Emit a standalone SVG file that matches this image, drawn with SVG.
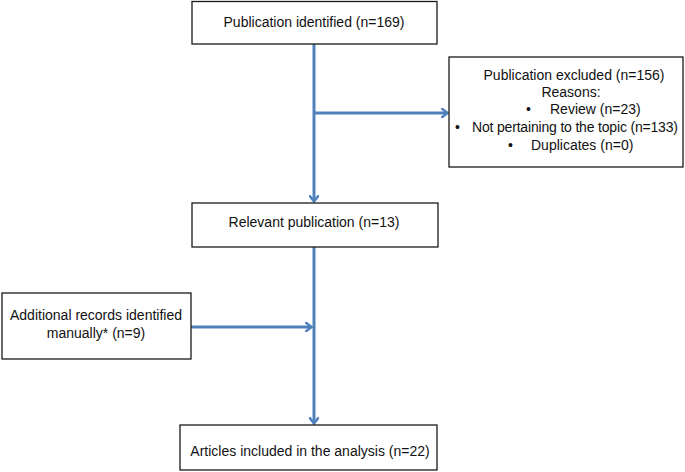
<svg xmlns="http://www.w3.org/2000/svg" width="685" height="472" viewBox="0 0 685 472">
<style>
.box{fill:#fff;stroke:#1a1a1a;stroke-width:1.3}
.t{font-family:"Liberation Sans",Arial,sans-serif;font-size:14px;fill:#111}
.c{text-anchor:middle}
.ln{stroke:#4F81BD;stroke-width:3;fill:none}
</style>
<defs>
<marker id="ah" markerWidth="8" markerHeight="10" refX="6" refY="5" orient="auto" markerUnits="userSpaceOnUse">
<path d="M0,0 L6.5,5 L0,10" fill="none" stroke="#4F81BD" stroke-width="2.5"/>
</marker>
</defs>
<rect width="685" height="472" fill="#fff"/>
<g id="connectors">
<line class="ln" x1="314" y1="44" x2="314" y2="201" marker-end="url(#ah)"/>
<line class="ln" x1="314" y1="113" x2="447" y2="113" marker-end="url(#ah)"/>
<line class="ln" x1="314" y1="247" x2="314" y2="423" marker-end="url(#ah)"/>
<line class="ln" x1="191" y1="327" x2="311" y2="327" marker-end="url(#ah)"/>
</g>
<g id="identified">
<rect class="box" x="192" y="1.5" width="245" height="42.5"/>
<text class="t c" x="314" y="27">Publication identified (n=169)</text>
</g>
<g id="excluded">
<rect class="box" x="449" y="57" width="234" height="110"/>
<text class="t c" x="574" y="80">Publication excluded (n=156)</text>
<text class="t c" x="571" y="97">Reasons:</text>
<text class="t" x="526" y="114">•</text>
<text class="t" x="550" y="114">Review (n=23)</text>
<text class="t" x="455" y="132">•</text>
<text class="t" x="472" y="132" textLength="206" lengthAdjust="spacing">Not pertaining to the topic (n=133)</text>
<text class="t" x="508" y="150">•</text>
<text class="t" x="531" y="150">Duplicates (n=0)</text>
</g>
<g id="relevant">
<rect class="box" x="192" y="203" width="246" height="44"/>
<text class="t c" x="314" y="227">Relevant publication (n=13)</text>
</g>
<g id="additional">
<rect class="box" x="2" y="293" width="189" height="66"/>
<text class="t c" x="96" y="320">Additional records identified</text>
<text class="t c" x="96" y="338">manually* (n=9)</text>
</g>
<g id="articles">
<rect class="box" x="180" y="425" width="257" height="45"/>
<text class="t c" x="310" y="456">Articles included in the analysis (n=22)</text>
</g>
</svg>
